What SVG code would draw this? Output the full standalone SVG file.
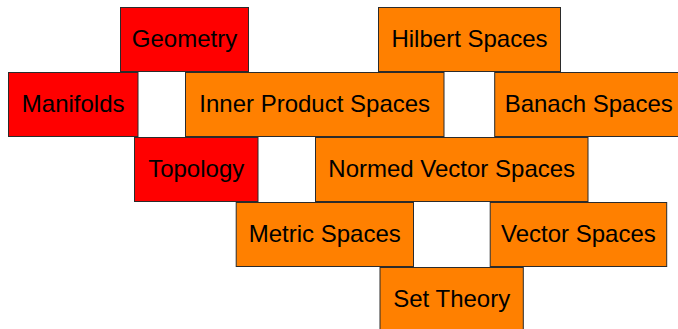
<svg xmlns="http://www.w3.org/2000/svg" width="678" height="329" viewBox="0 0 678 329">
<style>
rect{stroke:#2b2b2b;stroke-width:1}
.r{fill:#ff0000}
.o{fill:#ff8000}
text{font-family:"Liberation Sans",Arial,sans-serif;font-size:24px;fill:#000;text-anchor:middle}
</style>
<rect width="678" height="329" fill="#fff" style="stroke:none"/>
<g id="connectors"/>
<g id="geometry"><rect class="r" x="120.5" y="7.5" width="128" height="64"/><text x="184.5" y="46.5">Geometry</text></g>
<g id="hilbert"><rect class="o" x="378.5" y="7.5" width="182" height="64"/><text x="469.5" y="46.5">Hilbert Spaces</text></g>
<g id="manifolds"><rect class="r" x="8.5" y="72.5" width="129.5" height="64"/><text x="73.2" y="111.5">Manifolds</text></g>
<g id="inner"><rect class="o" x="185.5" y="72.5" width="258.5" height="64"/><text x="314.7" y="111.5">Inner Product Spaces</text></g>
<g id="banach"><rect class="o" x="494.7" y="72.5" width="188" height="64"/><text x="588.7" y="111.5">Banach Spaces</text></g>
<g id="topology"><rect class="r" x="134.5" y="137.5" width="123.5" height="64"/><text x="196.2" y="176.5">Topology</text></g>
<g id="normed"><rect class="o" x="315.5" y="137.5" width="272.5" height="64"/><text x="451.7" y="176.5">Normed Vector Spaces</text></g>
<g id="metric"><rect class="o" x="236.2" y="202.5" width="177.3" height="64"/><text x="324.8" y="241.5">Metric Spaces</text></g>
<g id="vector"><rect class="o" x="490.2" y="202.5" width="176.5" height="64"/><text x="578.4" y="241.5">Vector Spaces</text></g>
<g id="settheory"><rect class="o" x="380" y="267.5" width="143.3" height="64"/><text x="451.7" y="306.5">Set Theory</text></g>
</svg>
